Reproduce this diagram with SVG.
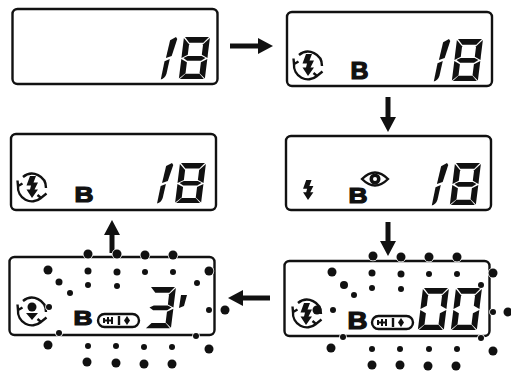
<svg xmlns="http://www.w3.org/2000/svg" width="511" height="371" viewBox="0 0 511 371">
<style>
.panel{fill:#fff;stroke:#111;stroke-width:2.400}
.b{font-family:"Liberation Sans",Arial,sans-serif;font-weight:700;fill:#111;stroke:#111;stroke-width:1.200}
.k{fill:#111}
.ln{fill:none;stroke:#111;stroke-width:2.400}
.arrow{fill:none;stroke:#111;stroke-width:5;marker-end:url(#head)}
.dots circle{fill:#111;stroke:#fff;stroke-width:1.500;paint-order:stroke}
</style>
<defs>
<marker id="head" markerUnits="userSpaceOnUse" markerWidth="16" markerHeight="18" refX="0" refY="9" orient="auto"><path d="M0 1L15 9L0 17Z" fill="#111"/></marker>
<polygon id="sT" points="1,0 25,0 20,5.500 6,5.500"/>
<polygon id="sUL" points="0,1 6,7 6,17 0,20"/>
<polygon id="sUR" points="26,1 26,20 20,17 20,7"/>
<polygon id="sM" points="2,20 6,18 20,18 24,20 20,22.500 6,22.500"/>
<polygon id="sLL" points="0,21 6,24 6,34.500 0,39.500"/>
<polygon id="sLR" points="26,21 26,39.500 20,34.500 20,24"/>
<polygon id="sB" points="1,40 6,35 20,35 25,40"/>
<g id="d0" class="k"><use href="#sT"/><use href="#sUL"/><use href="#sUR"/><use href="#sLL"/><use href="#sLR"/><use href="#sB"/></g>
<g id="d18" class="k"><use href="#d0"/><use href="#sM"/><path d="M-13.500 3L-8 0L-6.500 2L-10 18L-15.500 20Z"/><path d="M-16.500 23L-11.500 21L-13 35Q-14 39.500-18 40.500Z"/></g>
<path id="bolt" class="k" d="M-2-11L4-11L1.500-4.500L6-4.500L2.500 2.500L6 2.500L0 11L-5.500 2.500L-2 2.500L-1-1.500L-5.500-1.500Z"/>
<g id="ring"><path class="ln" d="M-9-10A14 14 0 0 1 14 1M9 11A14 14 0 0 1-14-1M-14.500-6.500L-14-1L-9.500-3.500M14.500 6.500L9 11L5.500 8"/></g>
<g id="pill"><rect class="ln" x="1" y="1" width="41" height="13" rx="6.500" fill="#fff"/><path class="ln" d="M22 3V12"/><path class="k" d="M6 5H8V10H6ZM10 4H12V11H10ZM14 4H16V11H14ZM8 6.500H14V8.500H8Z"/><path class="k" d="M30 3L33 7.500L30 12L27 7.500Z"/></g>
</defs>

<g id="connectors">
<path class="arrow" d="M230 46H258"/>
<path class="arrow" d="M388 97V117"/>
<path class="arrow" d="M388 222V241"/>
<path class="arrow" d="M270 298H243"/>
<path class="arrow" d="M112 253V235"/>
</g>

<g id="display-1">
<rect class="panel" x="12.500" y="9" width="205" height="75" rx="5"/>
<use href="#d18" transform="translate(184 37) skewX(-7) scale(1 1.05)"/>
</g>

<g id="display-2">
<rect class="panel" x="287" y="12" width="205" height="74" rx="5"/>
<use href="#ring" transform="translate(308 65)"/>
<use href="#bolt" transform="translate(308 65)"/>
<text class="b" x="350.500" y="78.500" font-size="24" textLength="18" lengthAdjust="spacingAndGlyphs">B</text>
<use href="#d18" transform="translate(457 39) skewX(-7) scale(1 1.05)"/>
</g>

<g id="display-3">
<rect class="panel" x="286" y="136" width="205" height="74" rx="5"/>
<use href="#bolt" transform="translate(308 190) scale(.9)"/>
<text class="b" x="348.500" y="203" font-size="22" textLength="19" lengthAdjust="spacingAndGlyphs">B</text>
<path class="ln" d="M362 179Q375 166 388 179Q375 192 362 179Z"/>
<circle cx="375" cy="179" r="5.500" class="k"/><circle cx="375" cy="179" r="2" fill="#fff"/>
<use href="#d18" transform="translate(455 163) skewX(-7) scale(1 1.05)"/>
</g>

<g id="display-4">
<rect class="panel" x="11" y="134" width="205" height="76" rx="5"/>
<use href="#ring" transform="translate(32 187)"/>
<use href="#bolt" transform="translate(32 187)"/>
<text class="b" x="74.500" y="201.500" font-size="22" textLength="19" lengthAdjust="spacingAndGlyphs">B</text>
<use href="#d18" transform="translate(180 163) skewX(-7)"/>
</g>

<g id="display-5">
<rect class="panel" x="9.500" y="257" width="205" height="78" rx="5"/>
<use href="#ring" transform="translate(32 311)"/>
<circle class="k" cx="32" cy="307" r="4.500"/><path class="k" d="M26 313H38L32 320Z"/>
<text class="b" x="73.500" y="324.500" font-size="21" textLength="19" lengthAdjust="spacingAndGlyphs">B</text>
<use href="#pill" transform="translate(97 313)"/>
<g class="k" transform="translate(150 287) skewX(-7) scale(1 1.030)"><use href="#sT"/><use href="#sUR"/><use href="#sM"/><use href="#sLR"/><use href="#sB"/></g>
<path class="k" d="M181 295L187 295L184 306L179 308Z"/>
</g>

<g id="display-6">
<rect class="panel" x="284.500" y="261" width="205" height="75" rx="5"/>
<use href="#ring" transform="translate(307 313)"/>
<use href="#bolt" transform="translate(306 314)"/>
<circle class="k" cx="317" cy="310" r="4.500"/>
<text class="b" x="347.500" y="328.500" font-size="23" textLength="20" lengthAdjust="spacingAndGlyphs">B</text>
<use href="#pill" transform="translate(371 315)"/>
<use href="#d0" transform="translate(423 288) skewX(-7) scale(1 1.05)"/>
<use href="#d0" transform="translate(456 288) skewX(-7) scale(1 1.05)"/>
</g>

<g id="blink-left" class="dots">
<circle cx="88" cy="254" r="4.500"/><circle cx="117" cy="254" r="4.500"/><circle cx="145" cy="255" r="4.500"/><circle cx="173" cy="255" r="4.500"/>
<circle cx="48" cy="270" r="4.500"/><circle cx="88" cy="271" r="3.500"/><circle cx="117" cy="272" r="3.500"/><circle cx="145" cy="272" r="3"/><circle cx="173" cy="272" r="3"/><circle cx="209" cy="271" r="4.500"/>
<circle cx="59" cy="282" r="3.500"/><circle cx="88" cy="285" r="3"/><circle cx="117" cy="286" r="3"/><circle cx="197" cy="283" r="3"/>
<circle cx="70" cy="293" r="3"/><circle cx="49" cy="307" r="3"/><circle cx="209" cy="310" r="3"/><circle cx="225" cy="310" r="4.500"/>
<circle cx="59" cy="333" r="3"/><circle cx="196" cy="336" r="3"/>
<circle cx="48" cy="345" r="4.500"/><circle cx="88" cy="346" r="3"/><circle cx="116" cy="346" r="3"/><circle cx="144" cy="347" r="3"/><circle cx="172" cy="347" r="3"/><circle cx="209" cy="349" r="4.500"/>
<circle cx="87" cy="362" r="4.500"/><circle cx="116" cy="363" r="4.500"/><circle cx="144" cy="364" r="4.500"/><circle cx="172" cy="364" r="4.500"/>
</g>
<g id="blink-right" class="dots">
<circle cx="373" cy="256" r="4.500"/><circle cx="401" cy="257" r="4.500"/><circle cx="429" cy="257" r="4.500"/><circle cx="457" cy="257" r="4.500"/>
<circle cx="332" cy="272" r="4.500"/><circle cx="372" cy="273" r="3.500"/><circle cx="401" cy="274" r="3.500"/><circle cx="429" cy="274" r="3"/><circle cx="457" cy="274" r="3"/><circle cx="493" cy="273" r="4.500"/>
<circle cx="344" cy="285" r="4"/><circle cx="372" cy="288" r="3"/><circle cx="401" cy="289" r="3"/><circle cx="481" cy="285" r="3"/>
<circle cx="354" cy="295" r="3"/><circle cx="333" cy="310" r="3"/><circle cx="493" cy="312" r="3"/><circle cx="508" cy="312" r="4.500"/>
<circle cx="343" cy="337" r="3"/><circle cx="481" cy="338" r="3"/>
<circle cx="331" cy="348" r="4.500"/><circle cx="372" cy="349" r="3"/><circle cx="400" cy="349" r="3"/><circle cx="429" cy="349" r="3"/><circle cx="457" cy="349" r="3"/><circle cx="493" cy="351" r="4.500"/>
<circle cx="372" cy="365" r="4.500"/><circle cx="400" cy="365" r="4.500"/><circle cx="428" cy="366" r="4.500"/><circle cx="456" cy="366" r="4.500"/>
</g>
</svg>
